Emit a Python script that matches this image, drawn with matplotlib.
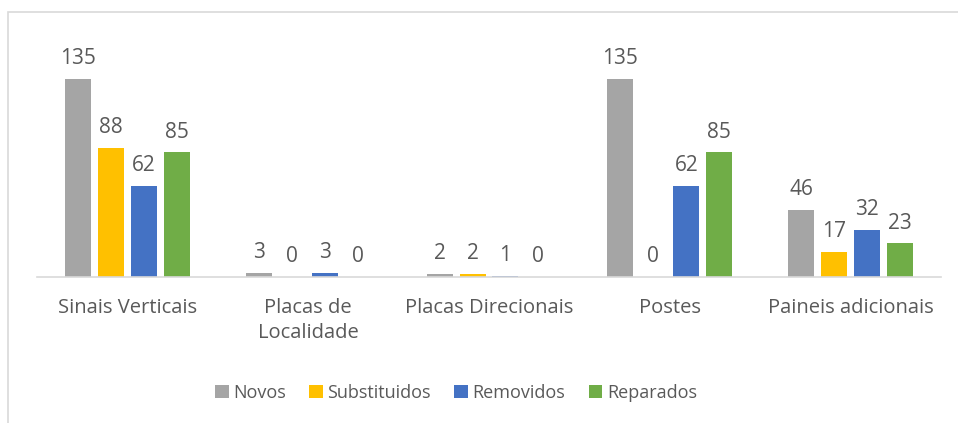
import numpy as np
import matplotlib.pyplot as plt
from matplotlib.patches import Rectangle

# data
categories = ['Sinais Verticais', 'Placas de\nLocalidade', 'Placas Direcionais', 'Postes', 'Paineis adicionais']
series = ['Novos', 'Substituidos', 'Removidos', 'Reparados']
novos = [135, 3, 2, 135, 46]
substituidos = [88, 0, 2, 0, 17]
removidos = [62, 3, 1, 62, 32]
reparados = [85, 0, 0, 85, 23]
colors = ['#a5a5a5', '#ffc000', '#4472c4', '#70ad47']

plt.rcParams['font.family'] = ['Open Sans', 'DejaVu Sans']
txt = '#595959'

W, H = 958, 423
fig = plt.figure(figsize=(W / 100, H / 100), dpi=100)
# chart border (partly cropped)
fig.patches.append(Rectangle((8 / W, -0.1), 1.2, 1 - 8 / H + 0.1 - 4 / H,
                             transform=fig.transFigure, fill=False,
                             edgecolor='#d9d9d9', linewidth=1.2))

ax = fig.add_axes([37 / W, (H - 277) / H, 904 / W, 220 / H])
x = np.arange(len(categories))
width = 0.144
step = 0.182
for i, (vals, name) in enumerate(zip([novos, substituidos, removidos, reparados], series)):
    pos = x + (i - 1.5) * step
    ax.bar(pos, vals, width, color=colors[i], label=name)
    for p, v in zip(pos, vals):
        ax.annotate(str(v), (p, v), xytext=(0, 7), textcoords='offset points',
                    ha='center', va='bottom', fontsize=15, color=txt)

ax.set_xlim(-0.5, len(categories) - 0.5)
ax.set_ylim(0, 150)
ax.set_yticks([])
for s in ['top', 'right', 'left']:
    ax.spines[s].set_visible(False)
ax.spines['bottom'].set_color('#d9d9d9')
ax.spines['bottom'].set_linewidth(1.2)
ax.set_xticks(x)
ax.set_xticklabels(categories, fontsize=14.5, color=txt, linespacing=1.35)
ax.tick_params(axis='x', length=0, pad=15)

fig.legend(loc='center', bbox_to_anchor=(456 / W, 1 - 393 / H), ncol=4,
           frameon=False, fontsize=13, handlelength=0.75, handleheight=0.75,
           handletextpad=0.25, columnspacing=1.3, labelcolor=txt)

fig.savefig('out.png', dpi=100)
